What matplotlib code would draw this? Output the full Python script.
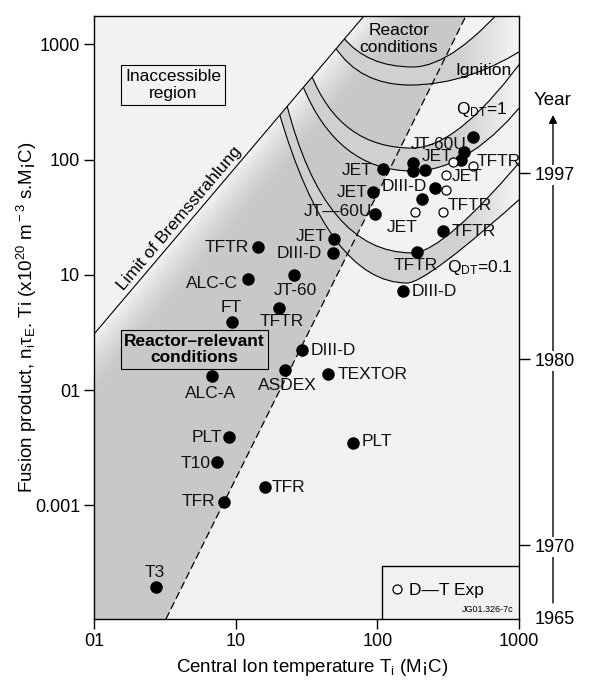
import numpy as np
import matplotlib.pyplot as plt
from matplotlib.path import Path
from matplotlib.patches import PathPatch, Polygon, Rectangle
from matplotlib.lines import Line2D
from matplotlib.ticker import FixedLocator, FixedFormatter, NullLocator

plt.rcParams['font.family'] = 'Liberation Sans'
plt.rcParams['mathtext.fontset'] = 'custom'
plt.rcParams['mathtext.rm'] = 'Liberation Sans'
plt.rcParams['mathtext.it'] = 'Liberation Sans:italic'
plt.rcParams['mathtext.bf'] = 'Liberation Sans:bold'

# axes
x_lim = [1, 1000]
y_lim = [0.0103, 1765]
x_ticks = [1, 10, 100, 1000]
x_ticklabels = ['01', '10', '100', '1000']
y_ticks = [1000, 100, 10, 1, 0.1]
y_ticklabels = ['1000', '100', '10', '01', '0.001']

# year scale on the right
years = ['1997', '1980', '1970']
year_pos = [76.5, 1.86, 0.0451]
first_year = ['1965']
first_year_pos = [0.0107]
year_arrow_y = [0.0142, 244]

# limit of Bremsstrahlung and edge of reactor-relevant conditions
brems_x = [1, 80.4]
brems_y = [3.06, 1765]
relevant_x = [3.22, 422]
relevant_y = [0.0103, 1765]

# Q_DT bands, quadratic bezier: start, ctrl, bottom, ctrl, end
q01_out_x = [20.2, 45.5, 162, 224, 1194]
q01_out_y = [259, 8.49, 8.49, 8.49, 54.5]
q01_in_x = [22.7, 42.0, 176, 295, 1194]
q01_in_y = [316, 15.5, 15.5, 15.5, 121]
q1_out_x = [29.4, 51.9, 178, 458, 1194]
q1_out_y = [453, 79.6, 79.6, 79.6, 364]
q1_in_x = [34.0, 54.5, 176, 383, 1194]
q1_in_y = [554, 126, 126, 126, 894]
ign_out_x = [50.2, 75.4, 170, 450, 1194]
ign_out_y = [949, 444, 444, 444, 988]
ign_in_x = [57.2, 84.5, 178, 347, 936]
ign_in_y = [1159, 637, 637, 637, 2738]

# experiments
names = ['T3', 'TFR', 'TFR', 'T10', 'PLT', 'PLT', 'ALC-A', 'ASDEX', 'TEXTOR', 'DIII-D',
         'FT', 'TFTR', 'ALC-C', 'JT-60', 'TFTR', 'JET', 'DIII-D', 'JT—60U', 'JET', 'JET',
         '', '', 'JET', 'JT-60U', '', '', 'DIII-D', '', 'TFTR', 'TFTR', 'DIII-D']
temp = [2.74, 8.27, 16.1, 7.38, 8.97, 67.3, 6.80, 22.3, 44.8, 29.4,
        9.42, 20.2, 12.2, 25.8, 14.4, 49.4, 48.6, 96.2, 93.1, 109.5,
        178, 178, 217, 473, 408, 389, 255, 206, 290, 190, 152]
prod = [0.0195, 0.107, 0.144, 0.237, 0.391, 0.347, 1.32, 1.49, 1.38, 2.22,
        3.89, 5.15, 9.20, 9.96, 17.4, 20.5, 15.5, 33.7, 52.3, 82.9,
        93.4, 79.6, 81.3, 157, 116, 99.2, 56.7, 45.5, 24.0, 15.8, 7.23]

# D-T experiments (open circles)
dt_names = ['', 'TFTR', 'JET', '', 'JET', 'TFTR']
dt_temp = [342, 473, 305, 305, 184, 290]
dt_prod = [95.3, 88.0, 73.5, 54.5, 35.1, 35.1]

# label offsets in pixels (dx, dy, ha)
offs = [(-1, 15, 'center'), (-9, 0, 'right'), (7, 0, 'left'), (-6, -1, 'right'),
        (-7, 0, 'right'), (9, 2, 'left'), (-1, -17, 'center'), (2, -15, 'center'),
        (10, -1, 'left'), (9, 0, 'left'), (-1, 15, 'center'), (3, -13, 'center'),
        (-10, -4, 'right'), (1, -15, 'center'), (-9, 0, 'right'), (-7, 2, 'right'),
        (-11, -1, 'right'), (-3, 3, 'right'), (-5, 0, 'right'), (-10, -1, 'right'),
        None, None, (-3, 13, 'left'), (-6, -7, 'right'), None, None,
        (-8, 2, 'right'), None, (9, 0, 'left'), (-1, -14, 'center'), (9, 0, 'left')]
dt_offs = [None, (4, 4.5, 'left'), (6, -1.5, 'left'), None, (-13, -15, 'center'), (5, 7, 'left')]

fig = plt.figure(figsize=(5.98, 6.92), dpi=100)
ax = fig.add_axes([94 / 598, 73 / 692, 425 / 598, 603 / 692])
ax.set_xscale('log')
ax.set_yscale('log')
ax.set_xlim(x_lim)
ax.set_ylim(y_lim)
ax.set_autoscale_on(False)
ax.set_facecolor('#f2f2f2')

# gray region between the two limits
gray_x = [x_lim[0]] + brems_x + relevant_x[::-1]
gray_y = [y_lim[0]] + brems_y + relevant_y[::-1]
gray = Polygon(np.column_stack([gray_x, gray_y]), closed=True, fc='#c8c8c8', ec='none', zorder=1)
ax.add_patch(gray)

# light shading along the Bremsstrahlung line
p0, p1 = ax.transData.transform(np.column_stack([brems_x, brems_y]))
along = (p1 - p0) / np.hypot(*(p1 - p0))
u, v = np.meshgrid(np.linspace(0, 1, 425), np.linspace(0, 1, 603))
pts = ax.transAxes.transform(np.column_stack([u.ravel(), v.ravel()])) - p0
dist = np.abs(pts[:, 0] * along[1] - pts[:, 1] * along[0]).reshape(u.shape)
shade = 0.785 + 0.165 * np.clip(1 - dist / 40, 0, 1) ** 1.5
im = ax.imshow(shade, extent=[0, 1, 0, 1], transform=ax.transAxes, origin='lower', cmap='gray',
               vmin=0, vmax=1, aspect='auto', interpolation='bilinear', zorder=1.1)
im.set_clip_path(gray)

# everything right of the Bremsstrahlung limit
right_x = [x_lim[0]] + brems_x + [x_lim[1], x_lim[1]]
right_y = [y_lim[0]] + brems_y + [y_lim[1], y_lim[0]]
allowed = Polygon(np.column_stack([right_x, right_y]), closed=True, transform=ax.transData)


def curve(xs, ys):
    return Path(list(zip(xs, ys)), [Path.MOVETO] + [Path.CURVE3] * 4)


def band(ix, iy, ox, oy):
    verts = list(zip(ix, iy)) + list(zip(ox[::-1], oy[::-1])) + [(ix[0], iy[0])]
    codes = [Path.MOVETO] + [Path.CURVE3] * 4 + [Path.LINETO] + [Path.CURVE3] * 4 + [Path.CLOSEPOLY]
    return Path(verts, codes)


# bands fade out towards the right edge
fu = np.linspace(0.8, 1, 90)
fade = 0.815 + 0.135 * np.clip((fu - 0.85) / 0.14, 0, 1) ** 1.2
fade = np.tile(fade, (10, 1))

for ix, iy, ox, oy in [(q01_in_x, q01_in_y, q01_out_x, q01_out_y),
                       (q1_in_x, q1_in_y, q1_out_x, q1_out_y),
                       (ign_in_x, ign_in_y, ign_out_x, ign_out_y)]:
    b = PathPatch(band(ix, iy, ox, oy), fc='#d0d0d0', ec='none', zorder=1.5)
    ax.add_patch(b)
    b.set_clip_path(allowed)
    bf = PathPatch(band(ix, iy, ox, oy), transform=ax.transData)
    fi = ax.imshow(fade, extent=[0.8, 1, 0, 1], transform=ax.transAxes, origin='lower', cmap='gray',
                   vmin=0, vmax=1, aspect='auto', interpolation='bilinear', zorder=1.6)
    fi.set_clip_path(bf)
    for cx, cy in [(ix, iy), (ox, oy)]:
        c = PathPatch(curve(cx, cy), fc='none', ec='black', lw=0.8, zorder=3)
        ax.add_patch(c)
        c.set_clip_path(allowed)

ax.plot(brems_x, brems_y, color='black', lw=0.8, zorder=3)
ax.plot(relevant_x, relevant_y, color='black', lw=0.9, ls=(0, (6, 3)), zorder=3)

# points
ax.plot(temp, prod, 'o', color='black', ms=8, zorder=6)
ax.plot(dt_temp, dt_prod, 'o', mfc='white', mec='black', mew=0.9, ms=6.5, zorder=6)
for nm, xx, yy, o in list(zip(names, temp, prod, offs)) + list(zip(dt_names, dt_temp, dt_prod, dt_offs)):
    if o is None:
        continue
    ax.annotate(nm, (xx, yy), xytext=(o[0], o[1]), textcoords='offset pixels',
                ha=o[2], va='center', fontsize=12.5, color='#111111', zorder=7)

# region texts
ax.text(142, 1114, 'Reactor\nconditions', ha='center', va='center', fontsize=12.5, linespacing=1.1, zorder=7)
ax.text(565, 588, 'Ignition', ha='center', va='center', fontsize=12.5, zorder=7)
ax.text(547, 270, 'Q$_{\\rm DT}$=1', ha='center', va='center', fontsize=12.5, zorder=7)
ax.text(530, 11.5, 'Q$_{\\rm DT}$=0.1', ha='center', va='center', fontsize=12.5, zorder=7)
ax.text(3.61, 444, 'Inaccessible\nregion', ha='center', va='center', fontsize=12.5, linespacing=1.15,
        bbox=dict(boxstyle='square,pad=0.25', fc='none', ec='black', lw=0.8), zorder=7)
ax.text(5.12, 2.25, 'Reactor–relevant\nconditions', ha='center', va='center', fontsize=12.5,
        fontweight='bold', linespacing=1.15,
        bbox=dict(boxstyle='square,pad=0.2', fc='#c8c8c8', ec='black', lw=0.8), zorder=7)
angle = np.degrees(np.arctan2(p1[1] - p0[1], p1[0] - p0[0]))
ax.text(4.04, 31.1, 'Limit of Bremsstrahlung', rotation=angle, rotation_mode='anchor',
        ha='center', va='center', fontsize=12.5, zorder=7)

# legend box
ax.add_patch(Rectangle((0.6776, 0), 0.3224, 0.0879, transform=ax.transAxes,
                       fc='#f2f2f2', ec='black', lw=1, zorder=8))
h = Line2D([], [], ls='none', marker='o', mfc='white', mec='black', mew=0.9, ms=6.5)
leg = ax.legend([h], ['D—T Exp'], loc='center left', bbox_to_anchor=(0.7007, 0.048), frameon=False,
                handlelength=0.6, handletextpad=0.4, borderpad=0, borderaxespad=0, fontsize=12.5)
leg.set_zorder(9)
ax.text(0.986, 0.009, 'JG01.326-7c', transform=ax.transAxes, ha='right', va='bottom', fontsize=6.5, zorder=9)

# ticks and labels
ax.set_xticks(x_ticks, x_ticklabels)
ax.set_yticks(y_ticks, y_ticklabels)
ax.xaxis.set_minor_locator(NullLocator())
ax.yaxis.set_minor_locator(NullLocator())
ax.tick_params(direction='out', length=7, width=1, labelsize=13, pad=3)
for s in ax.spines.values():
    s.set_linewidth(1)
ax.set_xlabel('Central Ion temperature T$_{\\rm i}$ (M¡C)', fontsize=13.5)
ax.xaxis.set_label_coords(0.513, -0.063)
ax.set_ylabel('Fusion product, n$_{\\rm i}$τ$_{\\rm E}$. Ti (x10$^{\\rm 20}$ m$^{\\rm -3}$ s.M¡C)', fontsize=13.5)
ax.yaxis.set_label_coords(-0.13, 0.5)

# year axis
ax.annotate('', xy=(1.08, year_arrow_y[1]), xytext=(1.08, year_arrow_y[0]),
            xycoords=('axes fraction', 'data'), textcoords=('axes fraction', 'data'),
            arrowprops=dict(arrowstyle='-|>', color='black', lw=1, shrinkA=0, shrinkB=0, mutation_scale=12),
            annotation_clip=False)
ax.annotate('Year', xy=(1.08, 329), xycoords=('axes fraction', 'data'), ha='center', va='center',
            fontsize=13.5, annotation_clip=False)
ay = ax.twinx()
ay.set_yscale('log')
ay.set_ylim(y_lim)
ay.yaxis.set_major_locator(FixedLocator(year_pos))
ay.yaxis.set_major_formatter(FixedFormatter(years))
ay.yaxis.set_minor_locator(FixedLocator(first_year_pos))
ay.yaxis.set_minor_formatter(FixedFormatter(first_year))
ay.tick_params(axis='y', which='major', direction='out', length=8, width=1, labelsize=13, pad=3.5)
ay.tick_params(axis='y', which='minor', length=0, labelsize=13, pad=11.5)
for s in ay.spines.values():
    s.set_visible(False)
for lbl in ay.get_yticklabels() + ay.get_yticklabels(minor=True):
    lbl.set_bbox(dict(fc='white', ec='none', pad=1))

fig.savefig('out.png', dpi=100)
